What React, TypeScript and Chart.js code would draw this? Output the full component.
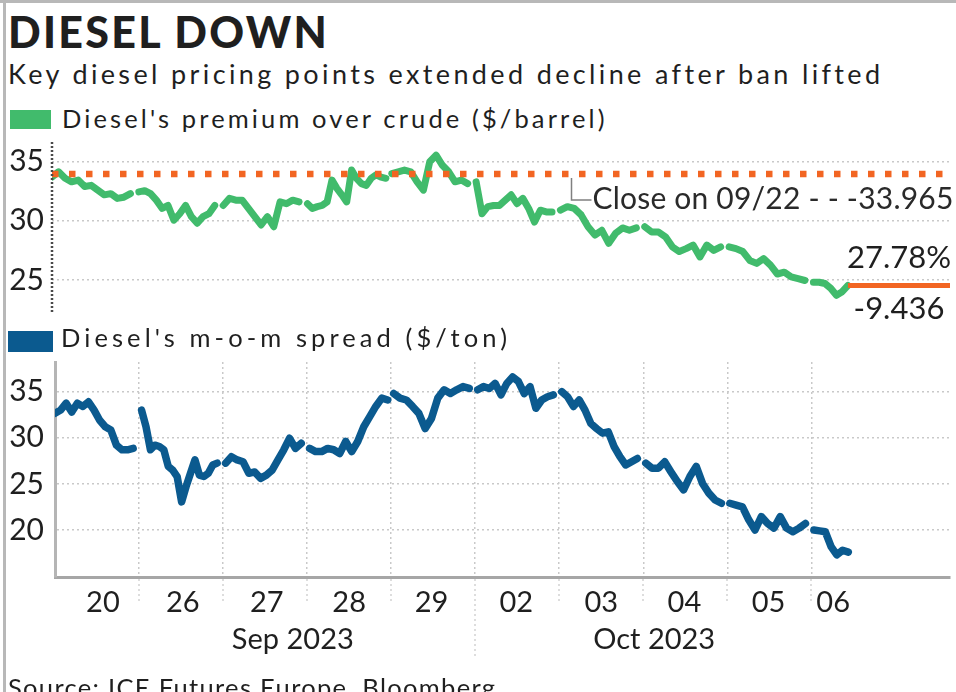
import React, { useEffect, useRef } from 'react';
import { Chart, registerables } from 'chart.js';
Chart.register(...registerables);

// ---------- data ----------
const dayLabels = ['20', '26', '27', '28', '29', '02', '03', '04', '05', '06'];
const dayLabelPositions = [0.57, 1.52, 2.52, 3.5, 4.48, 5.49, 6.5, 7.49, 8.49, 9.26];
const monthLabels = ['Sep 2023', 'Oct 2023'];
const monthLabelPositions = [2.83, 7.13];
const sessionBoundaries = [1, 2, 3, 4, 5, 6, 7, 8, 9];
const monthBoundary = 5;
const sessionStarts = [0.0, 1.03, 2.03, 3.03, 4.03, 5.03, 6.03, 7.03, 8.03, 9.03];
const sessionEnds = [0.93, 1.93, 2.93, 3.96, 4.93, 5.93, 6.93, 7.93, 8.93, 9.44];
const xMax = 10.65;

// Diesel's premium over crude ($/barrel), intraday samples per session
const premiumDays = [
  [33.7, 34.15, 33.6, 33.3, 33.45, 32.9, 33.0, 32.6, 32.2, 32.3, 31.9, 32.0, 32.3],
  [32.45, 32.55, 32.3, 31.75, 31.05, 31.3, 30.05, 30.6, 31.3, 30.35, 29.8, 30.35, 30.6, 31.3],
  [31.3, 31.9, 31.75, 31.75, 31.05, 30.35, 29.65, 30.35, 29.5, 31.6, 31.45, 31.75, 31.6],
  [31.45, 31.05, 31.2, 31.3, 31.6, 33.45, 32.75, 32.2, 31.6, 34.3, 33.6, 33.15, 33.0, 33.6, 33.9, 33.7, 33.6],
  [34.0, 34.15, 34.3, 34.15, 33.3, 32.6, 35.0, 35.55, 34.7, 34.15, 33.3, 33.45, 33.15],
  [33.3, 30.6, 31.2, 31.3, 31.3, 31.75, 32.2, 31.45, 31.9, 31.05, 29.9, 30.9, 30.75, 30.75],
  [30.9, 31.2, 31.05, 30.5, 29.5, 28.8, 29.2, 28.1, 28.95, 29.4, 29.2, 29.4],
  [29.5, 29.05, 29.05, 28.65, 27.8, 27.4, 27.65, 27.95, 26.95, 27.95, 27.5, 27.8],
  [27.8, 27.65, 27.4, 26.65, 26.4, 26.8, 26.25, 25.5, 25.65, 25.25, 25.1, 24.95],
  [24.8, 24.8, 24.7, 24.3, 23.7, 24.0, 24.529],
];

// Diesel's m-o-m spread ($/ton)
const spreadDays = [
  [32.65, 33.0, 33.75, 32.8, 33.75, 33.4, 33.9, 33.0, 31.9, 31.2, 30.85, 29.2, 28.7, 28.7, 28.85],
  [33.0, 31.2, 28.7, 29.2, 29.05, 28.7, 26.9, 26.5, 25.8, 23.05, 24.7, 26.15, 27.6, 25.95, 25.8, 26.15, 27.05, 27.25],
  [27.25, 27.95, 27.6, 27.4, 26.15, 26.3, 25.6, 25.95, 26.5, 27.6, 28.7, 29.95, 28.85, 29.4],
  [28.85, 28.5, 28.5, 28.85, 28.7, 28.3, 29.6, 28.5, 29.6, 31.2, 32.3, 33.4, 34.3, 34.1],
  [34.8, 34.3, 34.1, 33.4, 32.65, 31.0, 32.1, 34.3, 35.2, 34.8, 35.2, 35.55, 35.35],
  [35.2, 35.55, 35.35, 35.9, 34.65, 35.9, 36.6, 36.1, 34.8, 35.55, 33.2, 34.1, 34.45, 34.65],
  [35.0, 34.45, 33.4, 34.1, 33.0, 31.55, 31.0, 30.5, 30.65, 29.05, 27.95, 27.05, 27.4, 27.75],
  [27.25, 26.7, 26.7, 27.4, 26.3, 25.25, 24.35, 25.8, 26.9, 25.05, 24.0, 23.25, 22.9],
  [22.9, 22.7, 22.5, 21.1, 20.0, 21.45, 20.7, 20.2, 21.45, 20.2, 19.8, 20.2, 20.7],
  [20.0, 19.9, 19.8, 18.2, 17.3, 17.8, 17.6],
];

const premiumTicks = [25, 30, 35];
const spreadTicks = [20, 25, 30, 35];
const premiumRange = [22.2, 36.67];
const spreadRange = [14.9, 38.22];
const closeOn0922 = 33.965;
const closeAnnotationX = 6.15;

// ---------- style ----------
const GREEN = '#41bb6c';
const BLUE = '#0b5a8f';
const ORANGE = '#f26522';
const TEXT = '#1f1f1f';
const GRID = '#c9c9c9';
const FONT = 'Lato';

function toPoints(days: number[][]) {
  const pts: { x: number; y: number | null }[] = [];
  days.forEach((vals, d) => {
    const s = sessionStarts[d];
    const e = sessionEnds[d];
    vals.forEach((v, i) => pts.push({ x: s + ((e - s) * i) / (vals.length - 1), y: v }));
    if (d < days.length - 1) pts.push({ x: (e + sessionStarts[d + 1]) / 2, y: null });
  });
  return pts;
}

function FitText(props: { text: string; left: number; baseline: number; size: number; width: number; weight?: number }) {
  const { text, left, baseline, size, width, weight = 400 } = props;
  let ls = 0;
  if (typeof document !== 'undefined') {
    const c = document.createElement('canvas').getContext('2d');
    if (c) {
      c.font = `${weight} ${size}px ${FONT}`;
      const w = c.measureText(text).width;
      ls = (width - w) / Math.max(1, text.length - 1);
    }
  }
  return (
    <div
      style={{
        position: 'absolute',
        left,
        top: baseline - 0.887 * size,
        fontFamily: FONT,
        fontWeight: weight,
        fontSize: size,
        lineHeight: 1,
        letterSpacing: ls,
        whiteSpace: 'nowrap',
        color: TEXT,
      }}
    >
      {text}
    </div>
  );
}

function TopChart() {
  const ref = useRef<HTMLCanvasElement | null>(null);
  useEffect(() => {
    if (!ref.current) return;
    const pts = toPoints(premiumDays);
    const lastDay = premiumDays[premiumDays.length - 1];
    const last = lastDay[lastDay.length - 1];
    const lastX = sessionEnds[sessionEnds.length - 1];
    const diff = last - closeOn0922;
    const pct = ((closeOn0922 - last) / closeOn0922) * 100;

    const decor = {
      id: 'topDecor',
      afterDatasetsDraw(chart: any) {
        const { ctx, chartArea, scales } = chart;
        const xs = scales.x;
        const ys = scales.y;
        ctx.save();
        // dashed y axis
        ctx.strokeStyle = '#4a4a4a';
        ctx.lineWidth = 2.5;
        ctx.setLineDash([2, 2]);
        ctx.beginPath();
        ctx.moveTo(chartArea.left, chartArea.top);
        ctx.lineTo(chartArea.left, chartArea.bottom);
        ctx.stroke();
        ctx.setLineDash([]);
        // annotation connector
        const ax = Math.round(xs.getPixelForValue(closeAnnotationX)) + 0.5;
        const ay = ys.getPixelForValue(closeOn0922);
        ctx.strokeStyle = '#808080';
        ctx.lineWidth = 1.5;
        ctx.beginPath();
        ctx.moveTo(ax, ay + 4);
        ctx.lineTo(ax, ay + 26);
        ctx.lineTo(ax + 20, ay + 26);
        ctx.stroke();
        ctx.fillStyle = '#2a2a2a';
        ctx.font = `400 30px ${FONT}`;
        (ctx as any).letterSpacing = '0.2px';
        ctx.textBaseline = 'middle';
        ctx.textAlign = 'left';
        ctx.fillText(`Close on 09/22 - - -${closeOn0922.toFixed(3)}`, ax + 21, ay + 25);
        (ctx as any).letterSpacing = '0px';
        // change labels
        const lx = (xs.getPixelForValue(lastX) + chartArea.right) / 2;
        const ly = ys.getPixelForValue(last);
        ctx.font = `400 31px ${FONT}`;
        ctx.textAlign = 'center';
        ctx.fillStyle = TEXT;
        ctx.fillText(`${pct.toFixed(2)}%`, lx, ly - 27);
        ctx.fillText(diff.toFixed(3), lx, ly + 24);
        ctx.restore();
      },
    };

    const chart = new Chart(ref.current, {
      type: 'line',
      data: {
        datasets: [
          {
            data: pts as any,
            borderColor: GREEN,
            borderWidth: 7,
            pointRadius: 0,
            spanGaps: false,
            borderJoinStyle: 'round',
            borderCapStyle: 'round',
            order: 3,
          },
          {
            data: [
              { x: 0, y: closeOn0922 },
              { x: xMax, y: closeOn0922 },
            ] as any,
            borderColor: ORANGE,
            borderWidth: 6.5,
            borderDash: [6.5, 10.5],
            borderCapStyle: 'butt',
            pointRadius: 0,
            order: 1,
          },
          {
            data: [
              { x: lastX, y: last },
              { x: xMax, y: last },
            ] as any,
            borderColor: ORANGE,
            borderWidth: 5,
            pointRadius: 0,
            order: 2,
          },
        ],
      },
      options: {
        animation: false,
        responsive: false,
        maintainAspectRatio: false,
        layout: { padding: { top: 7, bottom: 12, left: 0, right: 6 } },
        plugins: { legend: { display: false }, tooltip: { enabled: false } },
        scales: {
          x: { type: 'linear', min: 0, max: xMax, display: false },
          y: {
            type: 'linear',
            min: premiumRange[0],
            max: premiumRange[1],
            afterBuildTicks: (s: any) => {
              s.ticks = premiumTicks.map((v) => ({ value: v }));
            },
            afterFit: (s: any) => {
              s.width = 52;
              s.paddingTop = 0;
              s.paddingBottom = 0;
            },
            grid: { color: GRID, lineWidth: 1.5, drawTicks: false },
            border: { display: false, dash: [2, 3] },
            ticks: { font: { family: FONT, size: 30 }, color: TEXT, padding: 8 },
          },
        },
      } as any,
      plugins: [decor],
    });
    return () => chart.destroy();
  }, []);
  return <canvas ref={ref} width={956} height={190} style={{ position: 'absolute', left: 0, top: 135, width: 956, height: 190 }} />;
}

function BottomChart() {
  const ref = useRef<HTMLCanvasElement | null>(null);
  useEffect(() => {
    if (!ref.current) return;
    const pts = toPoints(spreadDays);
    const tickValues = [...sessionBoundaries, ...dayLabelPositions, ...monthLabelPositions].sort((a, b) => a - b);

    const decor = {
      id: 'bottomDecor',
      afterDraw(chart: any) {
        const { ctx, chartArea, scales } = chart;
        ctx.save();
        ctx.strokeStyle = '#d2d2d2';
        ctx.lineWidth = 1.5;
        ctx.setLineDash([2, 3]);
        sessionBoundaries.forEach((b) => {
          const px = Math.round(scales.x.getPixelForValue(b));
          ctx.beginPath();
          ctx.moveTo(px, chartArea.bottom + 2);
          ctx.lineTo(px, chartArea.bottom + (b === monthBoundary ? 80 : 24));
          ctx.stroke();
        });
        ctx.restore();
      },
    };

    const chart = new Chart(ref.current, {
      type: 'line',
      data: {
        datasets: [
          {
            data: pts as any,
            borderColor: BLUE,
            borderWidth: 7.5,
            pointRadius: 0,
            spanGaps: false,
            borderJoinStyle: 'round',
            borderCapStyle: 'round',
          },
        ],
      },
      options: {
        animation: false,
        responsive: false,
        maintainAspectRatio: false,
        layout: { padding: { top: 7, bottom: 0, left: 0, right: 6 } },
        plugins: { legend: { display: false }, tooltip: { enabled: false } },
        scales: {
          x: {
            type: 'linear',
            min: 0,
            max: xMax,
            afterBuildTicks: (s: any) => {
              s.ticks = tickValues.map((v) => ({ value: v }));
            },
            afterFit: (s: any) => {
              s.height = 115;
              s.paddingLeft = 0;
              s.paddingRight = 0;
            },
            grid: {
              color: (c: any) => (c.tick && sessionBoundaries.includes(c.tick.value) ? GRID : 'rgba(0,0,0,0)'),
              lineWidth: 1.5,
              drawTicks: false,
            },
            border: { display: true, color: '#a6a6a6', width: 3, dash: [2, 3] },
            ticks: {
              autoSkip: false,
              maxRotation: 0,
              minRotation: 0,
              padding: 7,
              color: TEXT,
              font: { family: FONT, size: 29, lineHeight: 1.28 },
              callback: (value: any) => {
                const di = dayLabelPositions.indexOf(value);
                if (di >= 0) return dayLabels[di];
                const mi = monthLabelPositions.indexOf(value);
                if (mi >= 0) return ['', monthLabels[mi]];
                return '';
              },
            },
          },
          y: {
            type: 'linear',
            min: spreadRange[0],
            max: spreadRange[1],
            afterBuildTicks: (s: any) => {
              s.ticks = spreadTicks.map((v) => ({ value: v }));
            },
            afterFit: (s: any) => {
              s.width = 55;
              s.paddingTop = 0;
              s.paddingBottom = 0;
            },
            grid: { color: GRID, lineWidth: 1.5, drawTicks: false },
            border: { display: true, color: '#b5b5b5', width: 3, dash: [2, 3] },
            ticks: { font: { family: FONT, size: 30 }, color: TEXT, padding: 11 },
          },
        },
      } as any,
      plugins: [decor],
    });
    return () => chart.destroy();
  }, []);
  return <canvas ref={ref} width={956} height={337} style={{ position: 'absolute', left: 0, top: 355, width: 956, height: 337 }} />;
}

export default function App() {
  return (
    <div style={{ position: 'fixed', left: 0, top: 0, width: 956, height: 692, background: '#fff', overflow: 'hidden' }}>
      <div style={{ position: 'absolute', left: 0, top: 0, width: 956, height: 3, background: '#b8b8b8' }} />
      <div style={{ position: 'absolute', left: 3, top: 0, width: 2.5, height: 692, background: '#b8b8b8' }} />
      <FitText text="DIESEL DOWN" left={8} baseline={48} size={43} width={320} weight={900} />
      <FitText text="Key diesel pricing points extended decline after ban lifted" left={8} baseline={84} size={27} width={872} />
      <div style={{ position: 'absolute', left: 10, top: 110, width: 41, height: 19, background: GREEN }} />
      <FitText text="Diesel's premium over crude ($/barrel)" left={62} baseline={129} size={25.5} width={543} />
      <TopChart />
      <div style={{ position: 'absolute', left: 8, top: 331, width: 45, height: 21, background: BLUE }} />
      <FitText text="Diesel's m-o-m spread ($/ton)" left={61} baseline={348} size={25.5} width={446} />
      <BottomChart />
      <FitText text="Source: ICE Futures Europe, Bloomberg" left={8} baseline={698} size={25.5} width={487} />
    </div>
  );
}
